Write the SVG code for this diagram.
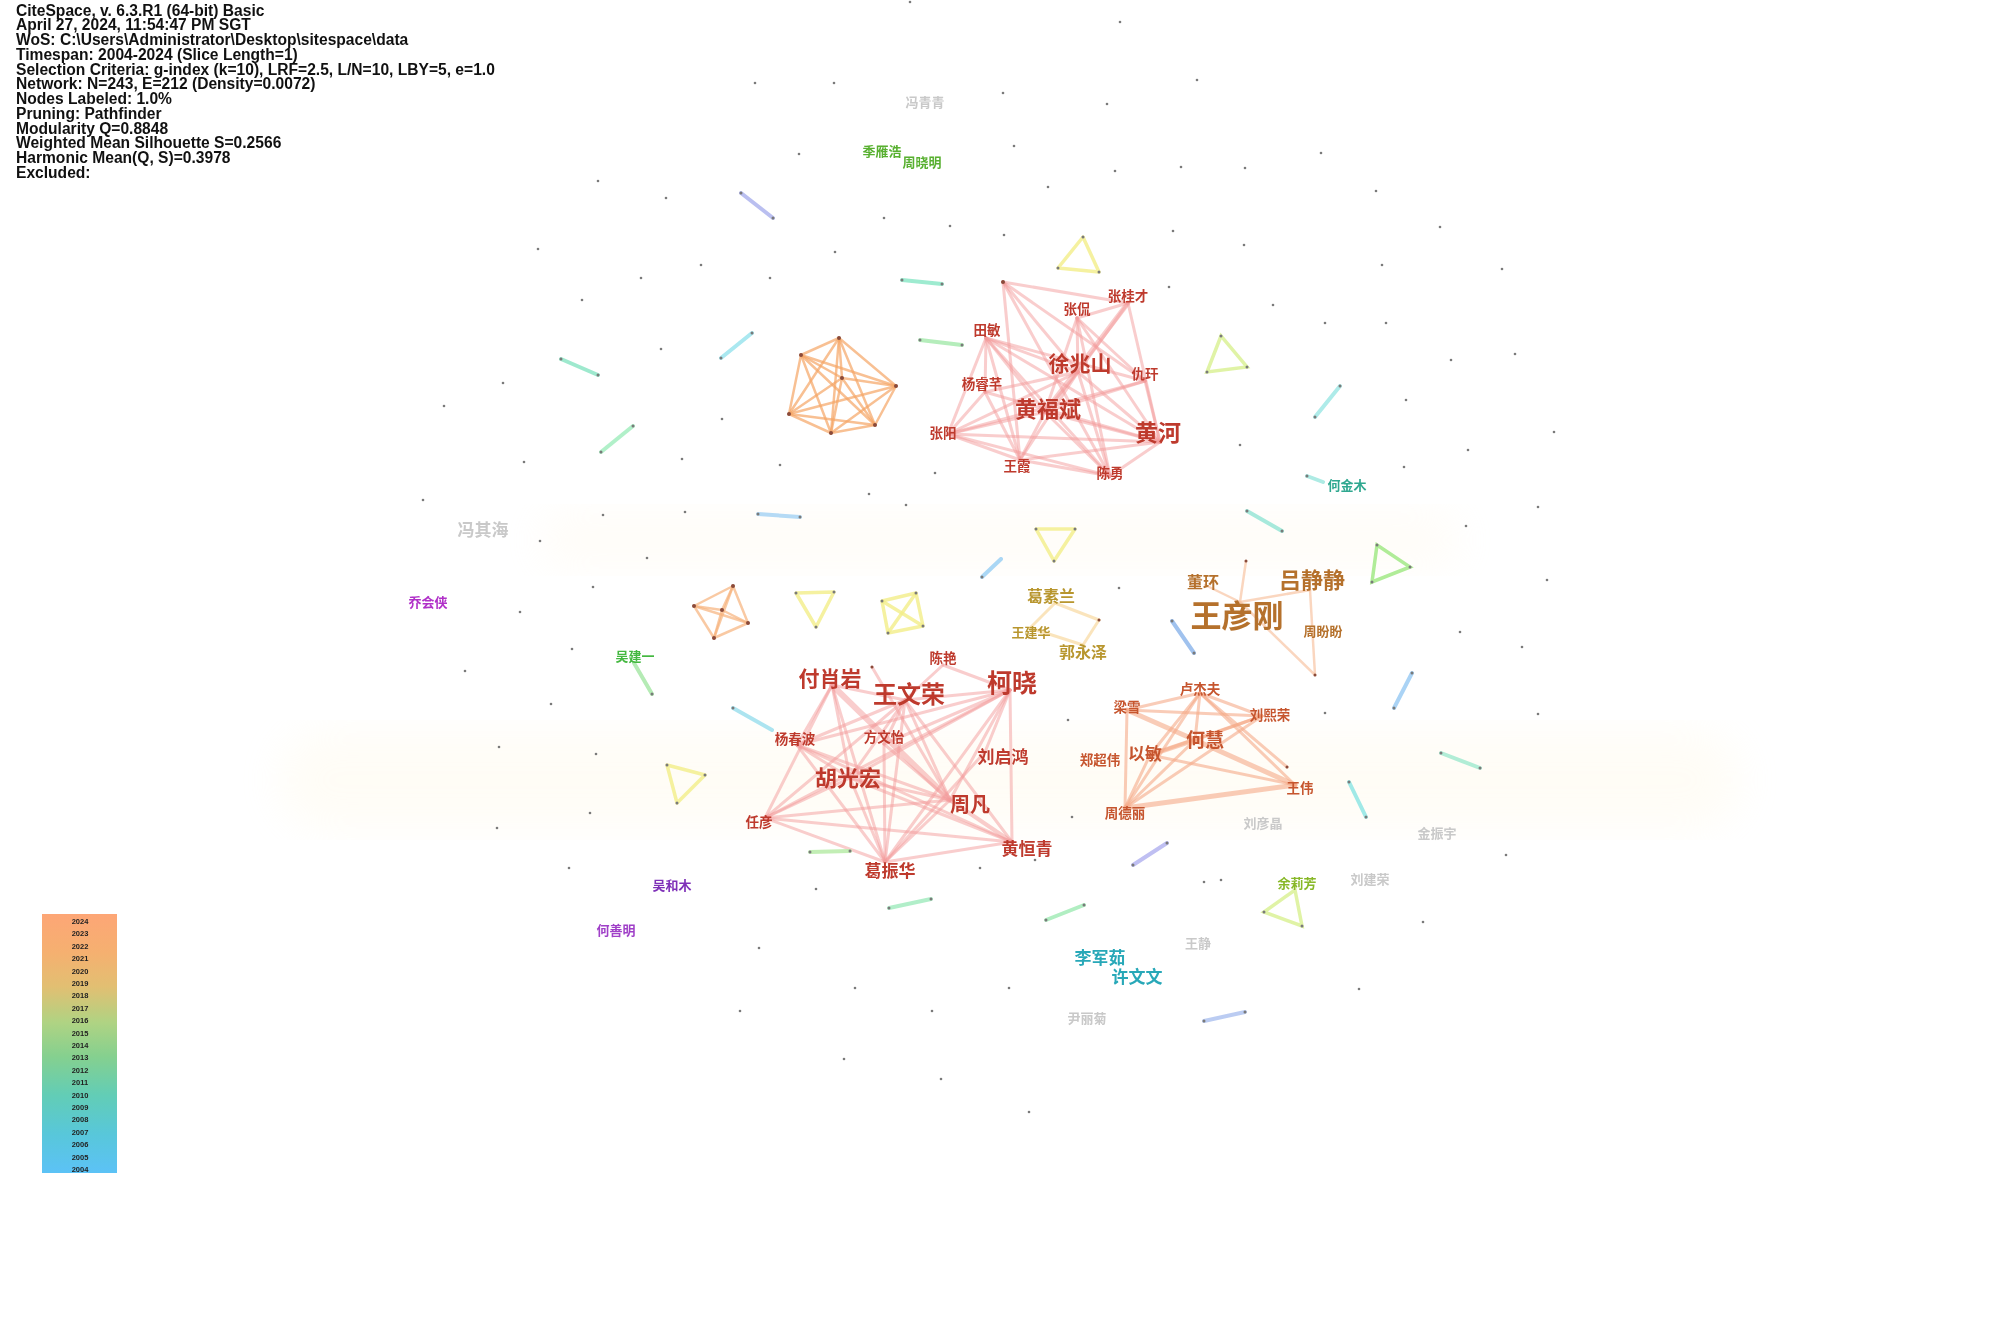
<svg xmlns="http://www.w3.org/2000/svg" width="2000" height="1336" viewBox="0 0 2000 1336">
<defs>
<linearGradient id="yr" x1="0" y1="0" x2="0" y2="1">
<stop offset="0" stop-color="#FDA676"/>
<stop offset="0.15" stop-color="#F5B070"/>
<stop offset="0.28" stop-color="#E2BF72"/>
<stop offset="0.42" stop-color="#AFD383"/>
<stop offset="0.55" stop-color="#85D08F"/>
<stop offset="0.7" stop-color="#62CDB6"/>
<stop offset="0.85" stop-color="#58C7DA"/>
<stop offset="1" stop-color="#5CC2F6"/>
</linearGradient>
<filter id="blur"><feGaussianBlur stdDeviation="20"/></filter>
</defs>
<style>
.hd{font-family:"Liberation Sans",Arial,sans-serif;font-weight:700;font-size:15.6px;fill:#111}
.yl{font-family:"Liberation Sans",Arial,sans-serif;font-weight:700;font-size:7.5px;fill:#222;text-anchor:middle}
text.t{font-family:"Noto Sans CJK SC","Noto Sans",sans-serif;font-weight:700;text-anchor:middle;dominant-baseline:central}
.lr{fill:#BE3A2D}.lo{fill:#C6552E}.lb{fill:#B5712C}.lg{fill:#B8962E}.gr{fill:#C9C9C9}
.er line{stroke:#F39C9C;stroke-width:3;stroke-opacity:0.5;stroke-linecap:round}
.eo line{stroke:#F5AA88;stroke-width:3;stroke-opacity:0.6;stroke-linecap:round}
.ep line{stroke:#F8C4A4;stroke-width:2.5;stroke-opacity:0.7;stroke-linecap:round}
.eh line{stroke:#F5A565;stroke-width:2.5;stroke-opacity:0.7;stroke-linecap:round}
.ey line,.ey polygon{stroke:#F2EE88;stroke-width:3.5;stroke-opacity:0.8;fill:none;stroke-linejoin:round}
.eyg polygon{stroke:#D8F090;stroke-width:3.5;stroke-opacity:0.8;fill:none}
.egn polygon{stroke:#B0EC98;stroke-width:3.5;fill:none}
.eq line{stroke:#F8D8A0;stroke-width:3;stroke-opacity:0.7;stroke-linecap:round}
.s{stroke-width:4;stroke-linecap:round;opacity:0.85}
.dot{fill:#7a7a7a}
.nd{fill:#8a4a3a}
</style>
<rect width="2000" height="1336" fill="#ffffff"/>
<g id="background-bands" opacity="0.22">
<rect x="280" y="730" width="1460" height="100" rx="50" fill="#FFF4D8" filter="url(#blur)"/>
<rect x="540" y="510" width="920" height="60" rx="30" fill="#FFF4E0" filter="url(#blur)"/>
</g>
<g id="header">
<text class="hd" x="16" y="15.5">CiteSpace, v. 6.3.R1 (64-bit) Basic</text>
<text class="hd" x="16" y="30.2">April 27, 2024, 11:54:47 PM SGT</text>
<text class="hd" x="16" y="45">WoS: C:\Users\Administrator\Desktop\sitespace\data</text>
<text class="hd" x="16" y="59.7">Timespan: 2004-2024 (Slice Length=1)</text>
<text class="hd" x="16" y="74.5">Selection Criteria: g-index (k=10), LRF=2.5, L/N=10, LBY=5, e=1.0</text>
<text class="hd" x="16" y="89.2">Network: N=243, E=212 (Density=0.0072)</text>
<text class="hd" x="16" y="104">Nodes Labeled: 1.0%</text>
<text class="hd" x="16" y="118.7">Pruning: Pathfinder</text>
<text class="hd" x="16" y="133.5">Modularity Q=0.8848</text>
<text class="hd" x="16" y="148.2">Weighted Mean Silhouette S=0.2566</text>
<text class="hd" x="16" y="163">Harmonic Mean(Q, S)=0.3978</text>
<text class="hd" x="16" y="177.7">Excluded:</text>
</g>
<g id="legend">
<rect x="42" y="914" width="75" height="259" fill="url(#yr)"/>
<text class="yl" x="80" y="924">2024</text><text class="yl" x="80" y="936.4">2023</text><text class="yl" x="80" y="948.8">2022</text><text class="yl" x="80" y="961.2">2021</text><text class="yl" x="80" y="973.6">2020</text><text class="yl" x="80" y="986">2019</text><text class="yl" x="80" y="998.4">2018</text><text class="yl" x="80" y="1010.8">2017</text><text class="yl" x="80" y="1023.2">2016</text><text class="yl" x="80" y="1035.6">2015</text><text class="yl" x="80" y="1048">2014</text><text class="yl" x="80" y="1060.4">2013</text><text class="yl" x="80" y="1072.8">2012</text><text class="yl" x="80" y="1085.2">2011</text><text class="yl" x="80" y="1097.6">2010</text><text class="yl" x="80" y="1110">2009</text><text class="yl" x="80" y="1122.4">2008</text><text class="yl" x="80" y="1134.8">2007</text><text class="yl" x="80" y="1147.2">2006</text><text class="yl" x="80" y="1159.6">2005</text><text class="yl" x="80" y="1172">2004</text>
</g>
<g id="connectors">
<g class="er" id="edges-top">
<line x1="1003" y1="282" x2="1128" y2="303"/><line x1="1003" y1="282" x2="1145" y2="381"/><line x1="1003" y1="282" x2="1078" y2="372"/><line x1="1003" y1="282" x2="1020" y2="460"/><line x1="1003" y1="282" x2="1110" y2="476"/>
<line x1="1128" y1="303" x2="1077" y2="318"/><line x1="1128" y1="303" x2="1045" y2="412" style="stroke-width:5"/><line x1="1128" y1="303" x2="1160" y2="442"/><line x1="1128" y1="303" x2="1078" y2="372"/>
<line x1="1077" y1="318" x2="1078" y2="372"/><line x1="1077" y1="318" x2="1045" y2="412"/><line x1="1077" y1="318" x2="1160" y2="442"/><line x1="1077" y1="318" x2="1110" y2="476"/><line x1="1077" y1="318" x2="1145" y2="381"/>
<line x1="986" y1="338" x2="985" y2="392"/><line x1="986" y1="338" x2="948" y2="434"/><line x1="986" y1="338" x2="1078" y2="372"/><line x1="986" y1="338" x2="1045" y2="412"/><line x1="986" y1="338" x2="1020" y2="460"/><line x1="986" y1="338" x2="1110" y2="476"/><line x1="986" y1="338" x2="1160" y2="442"/><line x1="986" y1="338" x2="1145" y2="381"/>
<line x1="985" y1="392" x2="1078" y2="372"/><line x1="985" y1="392" x2="1160" y2="442"/><line x1="985" y1="392" x2="1020" y2="460"/><line x1="985" y1="392" x2="948" y2="434"/>
<line x1="948" y1="434" x2="1078" y2="372"/><line x1="948" y1="434" x2="1160" y2="442"/><line x1="948" y1="434" x2="1110" y2="476"/><line x1="948" y1="434" x2="1020" y2="460"/><line x1="948" y1="434" x2="1045" y2="412"/><line x1="948" y1="434" x2="1145" y2="381"/>
<line x1="1045" y1="412" x2="1160" y2="442"/><line x1="1045" y1="412" x2="1110" y2="476"/><line x1="1045" y1="412" x2="1020" y2="460"/><line x1="1045" y1="412" x2="1078" y2="372"/><line x1="1045" y1="412" x2="1145" y2="381"/>
<line x1="1078" y1="372" x2="1110" y2="476"/><line x1="1078" y1="372" x2="1160" y2="442"/><line x1="1078" y1="372" x2="1020" y2="460"/>
<line x1="1020" y1="460" x2="1110" y2="476"/><line x1="1020" y1="460" x2="1160" y2="442"/><line x1="1110" y1="476" x2="1160" y2="442"/><line x1="1145" y1="381" x2="1160" y2="442"/>
</g>
<g class="er" id="edges-bottom-left">
<line x1="832" y1="685" x2="950" y2="800" style="stroke-width:6"/><line x1="832" y1="685" x2="850" y2="778"/><line x1="832" y1="685" x2="765" y2="818"/><line x1="832" y1="685" x2="885" y2="862"/><line x1="832" y1="685" x2="797" y2="745"/><line x1="832" y1="685" x2="905" y2="700"/>
<line x1="905" y1="700" x2="765" y2="818"/><line x1="905" y1="700" x2="885" y2="862"/><line x1="905" y1="700" x2="950" y2="800"/><line x1="905" y1="700" x2="884" y2="744"/><line x1="905" y1="700" x2="797" y2="745"/><line x1="905" y1="700" x2="1012" y2="842"/><line x1="905" y1="700" x2="850" y2="778"/>
<line x1="1010" y1="690" x2="797" y2="745"/><line x1="1010" y1="690" x2="884" y2="744"/><line x1="1010" y1="690" x2="850" y2="778"/><line x1="1010" y1="690" x2="765" y2="818"/><line x1="1010" y1="690" x2="885" y2="862"/><line x1="1010" y1="690" x2="1012" y2="842"/><line x1="1010" y1="690" x2="985" y2="752"/><line x1="1010" y1="690" x2="950" y2="800"/><line x1="1010" y1="690" x2="905" y2="700"/>
<line x1="797" y1="745" x2="1012" y2="842"/><line x1="797" y1="745" x2="850" y2="778"/><line x1="797" y1="745" x2="885" y2="862"/><line x1="797" y1="745" x2="950" y2="800"/>
<line x1="850" y1="778" x2="950" y2="800"/><line x1="850" y1="778" x2="885" y2="862"/><line x1="850" y1="778" x2="1012" y2="842"/><line x1="765" y1="818" x2="850" y2="778"/>
<line x1="765" y1="818" x2="950" y2="800"/><line x1="765" y1="818" x2="1012" y2="842"/><line x1="765" y1="818" x2="885" y2="862"/>
<line x1="885" y1="862" x2="1012" y2="842"/><line x1="885" y1="862" x2="950" y2="800"/><line x1="985" y1="752" x2="885" y2="862"/><line x1="884" y1="744" x2="885" y2="862"/><line x1="884" y1="744" x2="950" y2="800"/>
<line x1="943" y1="665" x2="1010" y2="690"/><line x1="943" y1="665" x2="905" y2="700"/><line x1="872" y1="667" x2="950" y2="800"/><line x1="950" y1="800" x2="1012" y2="842" style="stroke-width:4"/>
</g>
<g class="eo" id="edges-right">
<line x1="1127" y1="710" x2="1200" y2="693"/><line x1="1127" y1="710" x2="1262" y2="716"/><line x1="1127" y1="710" x2="1195" y2="740" style="stroke-width:5"/><line x1="1127" y1="710" x2="1125" y2="808"/>
<line x1="1200" y1="693" x2="1195" y2="740"/><line x1="1200" y1="693" x2="1262" y2="716"/><line x1="1200" y1="693" x2="1295" y2="785"/><line x1="1200" y1="693" x2="1150" y2="755"/><line x1="1200" y1="693" x2="1125" y2="808"/>
<line x1="1150" y1="755" x2="1195" y2="740" style="stroke-width:5"/><line x1="1195" y1="740" x2="1295" y2="785" style="stroke-width:5"/><line x1="1195" y1="740" x2="1125" y2="808"/>
<line x1="1262" y1="716" x2="1125" y2="808"/><line x1="1262" y1="716" x2="1150" y2="755"/><line x1="1150" y1="755" x2="1295" y2="785"/><line x1="1125" y1="808" x2="1295" y2="785" style="stroke-width:5"/>
<line x1="1287" y1="767" x2="1200" y2="693"/><line x1="1150" y1="755" x2="1125" y2="808"/><line x1="1262" y1="716" x2="1195" y2="740"/>
</g>
<g class="ep" id="edges-wyg">
<line x1="1246" y1="561" x2="1240" y2="602"/><line x1="1205" y1="585" x2="1240" y2="602"/><line x1="1240" y1="602" x2="1310" y2="590"/><line x1="1310" y1="590" x2="1315" y2="675"/><line x1="1240" y1="602" x2="1315" y2="675"/>
</g>
<g class="eq" id="edges-gold">
<line x1="1055" y1="603" x2="1099" y2="620"/><line x1="1099" y1="620" x2="1083" y2="645"/><line x1="1055" y1="603" x2="1030" y2="628"/><line x1="1030" y1="628" x2="1083" y2="645"/>
</g>
<g class="eh" id="edges-hex">
<line x1="839" y1="338" x2="801" y2="355"/><line x1="839" y1="338" x2="896" y2="386"/><line x1="839" y1="338" x2="842" y2="378"/><line x1="839" y1="338" x2="789" y2="414"/><line x1="839" y1="338" x2="831" y2="433"/><line x1="839" y1="338" x2="875" y2="425"/>
<line x1="801" y1="355" x2="896" y2="386"/><line x1="801" y1="355" x2="842" y2="378"/><line x1="801" y1="355" x2="789" y2="414"/><line x1="801" y1="355" x2="831" y2="433"/><line x1="801" y1="355" x2="875" y2="425"/>
<line x1="896" y1="386" x2="842" y2="378"/><line x1="896" y1="386" x2="789" y2="414"/><line x1="896" y1="386" x2="831" y2="433"/><line x1="896" y1="386" x2="875" y2="425"/>
<line x1="842" y1="378" x2="789" y2="414"/><line x1="842" y1="378" x2="831" y2="433"/><line x1="842" y1="378" x2="875" y2="425"/>
<line x1="789" y1="414" x2="831" y2="433"/><line x1="789" y1="414" x2="875" y2="425"/><line x1="831" y1="433" x2="875" y2="425"/>
</g>
<g class="eh" id="edges-star" style="opacity:0.85">
<line x1="733" y1="586" x2="694" y2="606"/><line x1="733" y1="586" x2="722" y2="610"/><line x1="733" y1="586" x2="748" y2="623"/><line x1="733" y1="586" x2="714" y2="638"/><line x1="694" y1="606" x2="722" y2="610"/><line x1="694" y1="606" x2="748" y2="623"/><line x1="694" y1="606" x2="714" y2="638"/><line x1="722" y1="610" x2="748" y2="623"/><line x1="722" y1="610" x2="714" y2="638"/><line x1="748" y1="623" x2="714" y2="638"/>
</g>
<g class="ey" id="edges-yellow">
<polygon points="796,593 834,592 816,627"/>
<polygon points="882,601 916,593 923,626 888,633"/>
<line x1="882" y1="601" x2="923" y2="626"/><line x1="916" y1="593" x2="888" y2="633"/>
<polygon points="1083,237 1058,268 1099,272"/>
<polygon points="1036,529 1075,529 1054,561"/>
<polygon points="667,765 705,775 677,803"/>
</g>
<g class="eyg" id="edges-yg">
<polygon points="1221,336 1207,372 1247,367"/>
<polygon points="1295,890 1264,912 1302,926"/>
</g>
<g class="egn" id="edges-green-tri">
<polygon points="1377,545 1410,567 1372,582"/>
</g>
<g id="edges-pairs">
<line class="s" x1="741" y1="193" x2="773" y2="218" stroke="#AEB4EE"/>
<line class="s" x1="902" y1="280" x2="942" y2="284" stroke="#8EE8C8"/>
<line class="s" x1="920" y1="340" x2="962" y2="345" stroke="#A8EAB0"/>
<line class="s" x1="561" y1="359" x2="598" y2="375" stroke="#8EE6C6"/>
<line class="s" x1="752" y1="333" x2="721" y2="358" stroke="#9CE4EE"/>
<line class="s" x1="633" y1="426" x2="601" y2="452" stroke="#A4EEC0"/>
<line class="s" x1="758" y1="514" x2="800" y2="517" stroke="#A8D4F4"/>
<line class="s" x1="634" y1="663" x2="652" y2="694" stroke="#A8E8A8"/>
<line class="s" x1="982" y1="577" x2="1001" y2="559" stroke="#9CD0F4"/>
<line class="s" x1="1172" y1="621" x2="1194" y2="653" stroke="#90B8EC"/>
<line class="s" x1="1340" y1="386" x2="1315" y2="417" stroke="#A0E8E6"/>
<line class="s" x1="1307" y1="476" x2="1323" y2="482" stroke="#A0E8E0"/>
<line class="s" x1="1247" y1="511" x2="1282" y2="531" stroke="#98E6D6"/>
<line class="s" x1="1412" y1="673" x2="1394" y2="708" stroke="#9CCCF4"/>
<line class="s" x1="1441" y1="753" x2="1480" y2="768" stroke="#A4EAD0"/>
<line class="s" x1="1349" y1="782" x2="1366" y2="817" stroke="#90E6E4"/>
<line class="s" x1="733" y1="708" x2="772" y2="730" stroke="#9EE0EE"/>
<line class="s" x1="810" y1="852" x2="850" y2="851" stroke="#B8ECA8"/>
<line class="s" x1="889" y1="908" x2="931" y2="899" stroke="#A4ECC0"/>
<line class="s" x1="1046" y1="920" x2="1084" y2="905" stroke="#A4ECB8"/>
<line class="s" x1="1133" y1="865" x2="1167" y2="843" stroke="#B4B4F0"/>
<line class="s" x1="1204" y1="1021" x2="1245" y2="1012" stroke="#B0C4F0"/>
</g>
</g>
<g id="minor-nodes">
<circle class="dot" cx="423" cy="500" r="1.3"/><circle class="dot" cx="603" cy="515" r="1.3"/><circle class="dot" cx="685" cy="512" r="1.3"/><circle class="dot" cx="540" cy="541" r="1.3"/><circle class="dot" cx="647" cy="558" r="1.3"/><circle class="dot" cx="593" cy="587" r="1.3"/><circle class="dot" cx="520" cy="612" r="1.3"/><circle class="dot" cx="572" cy="649" r="1.3"/><circle class="dot" cx="465" cy="671" r="1.3"/><circle class="dot" cx="551" cy="704" r="1.3"/><circle class="dot" cx="499" cy="747" r="1.3"/><circle class="dot" cx="596" cy="754" r="1.3"/><circle class="dot" cx="590" cy="813" r="1.3"/><circle class="dot" cx="497" cy="828" r="1.3"/><circle class="dot" cx="569" cy="868" r="1.3"/>
<circle class="dot" cx="755" cy="83" r="1.3"/><circle class="dot" cx="834" cy="83" r="1.3"/><circle class="dot" cx="1003" cy="93" r="1.3"/><circle class="dot" cx="1107" cy="104" r="1.3"/><circle class="dot" cx="1197" cy="80" r="1.3"/><circle class="dot" cx="799" cy="154" r="1.3"/><circle class="dot" cx="1014" cy="146" r="1.3"/><circle class="dot" cx="1115" cy="171" r="1.3"/><circle class="dot" cx="1181" cy="167" r="1.3"/><circle class="dot" cx="1245" cy="168" r="1.3"/><circle class="dot" cx="1048" cy="187" r="1.3"/><circle class="dot" cx="884" cy="218" r="1.3"/><circle class="dot" cx="950" cy="226" r="1.3"/><circle class="dot" cx="1004" cy="235" r="1.3"/><circle class="dot" cx="835" cy="252" r="1.3"/><circle class="dot" cx="770" cy="278" r="1.3"/><circle class="dot" cx="1173" cy="231" r="1.3"/><circle class="dot" cx="1244" cy="245" r="1.3"/><circle class="dot" cx="1169" cy="287" r="1.3"/><circle class="dot" cx="1120" cy="22" r="1.3"/><circle class="dot" cx="910" cy="2" r="1.3"/>
<circle class="dot" cx="598" cy="181" r="1.3"/><circle class="dot" cx="666" cy="198" r="1.3"/><circle class="dot" cx="538" cy="249" r="1.3"/><circle class="dot" cx="701" cy="265" r="1.3"/><circle class="dot" cx="641" cy="278" r="1.3"/><circle class="dot" cx="582" cy="300" r="1.3"/><circle class="dot" cx="661" cy="349" r="1.3"/><circle class="dot" cx="503" cy="383" r="1.3"/><circle class="dot" cx="722" cy="419" r="1.3"/><circle class="dot" cx="524" cy="462" r="1.3"/><circle class="dot" cx="682" cy="459" r="1.3"/><circle class="dot" cx="780" cy="465" r="1.3"/><circle class="dot" cx="935" cy="473" r="1.3"/><circle class="dot" cx="869" cy="494" r="1.3"/><circle class="dot" cx="906" cy="505" r="1.3"/><circle class="dot" cx="444" cy="406" r="1.3"/>
<circle class="dot" cx="1382" cy="265" r="1.3"/><circle class="dot" cx="1502" cy="269" r="1.3"/><circle class="dot" cx="1273" cy="305" r="1.3"/><circle class="dot" cx="1325" cy="323" r="1.3"/><circle class="dot" cx="1386" cy="323" r="1.3"/><circle class="dot" cx="1451" cy="360" r="1.3"/><circle class="dot" cx="1515" cy="354" r="1.3"/><circle class="dot" cx="1406" cy="400" r="1.3"/><circle class="dot" cx="1554" cy="432" r="1.3"/><circle class="dot" cx="1240" cy="445" r="1.3"/><circle class="dot" cx="1468" cy="450" r="1.3"/><circle class="dot" cx="1404" cy="467" r="1.3"/><circle class="dot" cx="1538" cy="507" r="1.3"/><circle class="dot" cx="1466" cy="526" r="1.3"/><circle class="dot" cx="1547" cy="580" r="1.3"/><circle class="dot" cx="1460" cy="632" r="1.3"/><circle class="dot" cx="1522" cy="647" r="1.3"/><circle class="dot" cx="1321" cy="153" r="1.3"/><circle class="dot" cx="1376" cy="191" r="1.3"/><circle class="dot" cx="1440" cy="227" r="1.3"/><circle class="dot" cx="1538" cy="714" r="1.3"/><circle class="dot" cx="1506" cy="855" r="1.3"/>
<circle class="dot" cx="1072" cy="817" r="1.3"/><circle class="dot" cx="1035" cy="860" r="1.3"/><circle class="dot" cx="1204" cy="882" r="1.3"/><circle class="dot" cx="1423" cy="922" r="1.3"/><circle class="dot" cx="1009" cy="988" r="1.3"/><circle class="dot" cx="1359" cy="989" r="1.3"/><circle class="dot" cx="1119" cy="588" r="1.3"/><circle class="dot" cx="1325" cy="713" r="1.3"/><circle class="dot" cx="1221" cy="880" r="1.3"/>
<circle class="dot" cx="759" cy="948" r="1.3"/><circle class="dot" cx="740" cy="1011" r="1.3"/><circle class="dot" cx="844" cy="1059" r="1.3"/><circle class="dot" cx="941" cy="1079" r="1.3"/><circle class="dot" cx="1029" cy="1112" r="1.3"/><circle class="dot" cx="932" cy="1011" r="1.3"/><circle class="dot" cx="855" cy="988" r="1.3"/><circle class="dot" cx="816" cy="889" r="1.3"/><circle class="dot" cx="980" cy="868" r="1.3"/><circle class="dot" cx="1068" cy="720" r="1.3"/>
<circle class="dot" cx="741" cy="193" r="1.5"/><circle class="dot" cx="773" cy="218" r="1.5"/><circle class="dot" cx="902" cy="280" r="1.5"/><circle class="dot" cx="942" cy="284" r="1.5"/><circle class="dot" cx="920" cy="340" r="1.5"/><circle class="dot" cx="962" cy="345" r="1.5"/><circle class="dot" cx="561" cy="359" r="1.5"/><circle class="dot" cx="598" cy="375" r="1.5"/><circle class="dot" cx="752" cy="333" r="1.5"/><circle class="dot" cx="721" cy="358" r="1.5"/><circle class="dot" cx="633" cy="426" r="1.5"/><circle class="dot" cx="601" cy="452" r="1.5"/><circle class="dot" cx="758" cy="514" r="1.5"/><circle class="dot" cx="800" cy="517" r="1.5"/><circle class="dot" cx="652" cy="694" r="1.5"/><circle class="dot" cx="982" cy="577" r="1.5"/><circle class="dot" cx="1172" cy="621" r="1.5"/><circle class="dot" cx="1194" cy="653" r="1.5"/><circle class="dot" cx="1340" cy="386" r="1.5"/><circle class="dot" cx="1315" cy="417" r="1.5"/><circle class="dot" cx="1307" cy="476" r="1.5"/><circle class="dot" cx="1247" cy="511" r="1.5"/><circle class="dot" cx="1282" cy="531" r="1.5"/><circle class="dot" cx="1412" cy="673" r="1.5"/><circle class="dot" cx="1394" cy="708" r="1.5"/><circle class="dot" cx="1441" cy="753" r="1.5"/><circle class="dot" cx="1480" cy="768" r="1.5"/><circle class="dot" cx="1349" cy="782" r="1.5"/><circle class="dot" cx="1366" cy="817" r="1.5"/><circle class="dot" cx="733" cy="708" r="1.5"/><circle class="dot" cx="810" cy="852" r="1.5"/><circle class="dot" cx="850" cy="851" r="1.5"/><circle class="dot" cx="889" cy="908" r="1.5"/><circle class="dot" cx="931" cy="899" r="1.5"/><circle class="dot" cx="1046" cy="920" r="1.5"/><circle class="dot" cx="1084" cy="905" r="1.5"/><circle class="dot" cx="1133" cy="865" r="1.5"/><circle class="dot" cx="1167" cy="843" r="1.5"/><circle class="dot" cx="1204" cy="1021" r="1.5"/><circle class="dot" cx="1245" cy="1012" r="1.5"/>
<circle class="dot" cx="1083" cy="237" r="1.5"/><circle class="dot" cx="1058" cy="268" r="1.5"/><circle class="dot" cx="1099" cy="272" r="1.5"/><circle class="dot" cx="1221" cy="336" r="1.5"/><circle class="dot" cx="1207" cy="372" r="1.5"/><circle class="dot" cx="1247" cy="367" r="1.5"/><circle class="dot" cx="1377" cy="545" r="1.5"/><circle class="dot" cx="1410" cy="567" r="1.5"/><circle class="dot" cx="1372" cy="582" r="1.5"/><circle class="dot" cx="1036" cy="529" r="1.5"/><circle class="dot" cx="1075" cy="529" r="1.5"/><circle class="dot" cx="1054" cy="561" r="1.5"/><circle class="dot" cx="796" cy="593" r="1.5"/><circle class="dot" cx="834" cy="592" r="1.5"/><circle class="dot" cx="816" cy="627" r="1.5"/><circle class="dot" cx="882" cy="601" r="1.5"/><circle class="dot" cx="916" cy="593" r="1.5"/><circle class="dot" cx="923" cy="626" r="1.5"/><circle class="dot" cx="888" cy="633" r="1.5"/><circle class="dot" cx="667" cy="765" r="1.5"/><circle class="dot" cx="705" cy="775" r="1.5"/><circle class="dot" cx="677" cy="803" r="1.5"/><circle class="dot" cx="1264" cy="912" r="1.5"/><circle class="dot" cx="1302" cy="926" r="1.5"/>
<circle class="nd" cx="839" cy="338" r="2"/><circle class="nd" cx="801" cy="355" r="2"/><circle class="nd" cx="896" cy="386" r="2"/><circle class="nd" cx="842" cy="378" r="2"/><circle class="nd" cx="789" cy="414" r="2"/><circle class="nd" cx="831" cy="433" r="2"/><circle class="nd" cx="875" cy="425" r="2"/>
<circle class="nd" cx="733" cy="586" r="2"/><circle class="nd" cx="694" cy="606" r="2"/><circle class="nd" cx="722" cy="610" r="2"/><circle class="nd" cx="748" cy="623" r="2"/><circle class="nd" cx="714" cy="638" r="2"/>
<circle class="nd" cx="1003" cy="282" r="2"/><circle class="nd" cx="872" cy="667" r="1.5"/><circle class="nd" cx="1246" cy="561" r="1.5"/><circle class="nd" cx="1315" cy="675" r="1.5"/><circle class="nd" cx="1287" cy="767" r="1.5"/><circle class="nd" cx="1099" cy="620" r="1.5"/>
</g>
<g id="n-zhangguicai"><text class="t lr" x="1128" y="295" font-size="13.5">张桂才</text></g>
<g id="n-zhangkan"><text class="t lr" x="1077" y="308" font-size="13.5">张侃</text></g>
<g id="n-tianmin"><text class="t lr" x="987" y="329" font-size="13.5">田敏</text></g>
<g id="n-xuzhaoshan"><text class="t lr" x="1080" y="362" font-size="21">徐兆山</text></g>
<g id="n-qiugan"><text class="t lr" x="1145" y="373" font-size="13.5">仇玕</text></g>
<g id="n-yangruiqian"><text class="t lr" x="982" y="383" font-size="13.5">杨睿芊</text></g>
<g id="n-huangfubin"><text class="t lr" x="1048" y="407" font-size="22">黄福斌</text></g>
<g id="n-zhangyang"><text class="t lr" x="943" y="432" font-size="13.5">张阳</text></g>
<g id="n-huanghe"><text class="t lr" x="1158" y="431" font-size="23">黄河</text></g>
<g id="n-wangxia"><text class="t lr" x="1017" y="465" font-size="13.5">王霞</text></g>
<g id="n-chenyong"><text class="t lr" x="1110" y="472" font-size="13.5">陈勇</text></g>
<g id="n-chenyan"><text class="t lr" x="943" y="657" font-size="13.5">陈艳</text></g>
<g id="n-fuxiaoyan"><text class="t lr" x="830" y="677" font-size="21">付肖岩</text></g>
<g id="n-wangwenrong"><text class="t lr" x="909" y="692" font-size="24">王文荣</text></g>
<g id="n-kexiao"><text class="t lr" x="1012" y="681" font-size="25">柯晓</text></g>
<g id="n-yangchunbo"><text class="t lr" x="795" y="738" font-size="13.5">杨春波</text></g>
<g id="n-fangwenyi"><text class="t lr" x="884" y="736" font-size="13.5">方文怡</text></g>
<g id="n-liuqihong"><text class="t lr" x="1003" y="755" font-size="17">刘启鸿</text></g>
<g id="n-huguanghong"><text class="t lr" x="848" y="776" font-size="22">胡光宏</text></g>
<g id="n-zhoufan"><text class="t lr" x="970" y="803" font-size="20">周凡</text></g>
<g id="n-renyan"><text class="t lr" x="759" y="821" font-size="13.5">任彦</text></g>
<g id="n-huanghengqing"><text class="t lr" x="1027" y="847" font-size="17">黄恒青</text></g>
<g id="n-gezhenhua"><text class="t lr" x="890" y="869" font-size="17">葛振华</text></g>
<g id="n-lujiefu"><text class="t lo" x="1200" y="688" font-size="13.5">卢杰夫</text></g>
<g id="n-liangxue"><text class="t lo" x="1127" y="706" font-size="13.5">梁雪</text></g>
<g id="n-liuxirong"><text class="t lo" x="1270" y="714" font-size="13.5">刘熙荣</text></g>
<g id="n-hehui"><text class="t lo" x="1205" y="738" font-size="19">何慧</text></g>
<g id="n-yimin"><text class="t lo" x="1145" y="752" font-size="17">以敏</text></g>
<g id="n-zhengchaowei"><text class="t lo" x="1100" y="759" font-size="13.5">郑超伟</text></g>
<g id="n-wangwei"><text class="t lo" x="1300" y="787" font-size="13.5">王伟</text></g>
<g id="n-zhoudeli"><text class="t lo" x="1125" y="812" font-size="13.5">周德丽</text></g>
<g id="n-donghuan"><text class="t lb" x="1203" y="581" font-size="16">董环</text></g>
<g id="n-lvjingjing"><text class="t lb" x="1312" y="578" font-size="22">吕静静</text></g>
<g id="n-wangyangang"><text class="t lb" x="1237" y="613" font-size="31">王彦刚</text></g>
<g id="n-zhoupanpan"><text class="t lb" x="1323" y="630" font-size="13">周盼盼</text></g>
<g id="n-gesulan"><text class="t lg" x="1051" y="595" font-size="16">葛素兰</text></g>
<g id="n-wangjianhua"><text class="t lg" x="1031" y="631" font-size="13">王建华</text></g>
<g id="n-guoyongze"><text class="t lg" x="1083" y="651" font-size="16">郭永泽</text></g>
<g id="n-fengqihai"><text class="t gr" x="483" y="528" font-size="17">冯其海</text></g>
<g id="n-qiaohuixia"><text class="t" x="428" y="601" font-size="13" fill="#B030C8">乔会侠</text></g>
<g id="n-wujianyi"><text class="t" x="635" y="655" font-size="13" fill="#44B840">吴建一</text></g>
<g id="n-wuhemu"><text class="t" x="672" y="884" font-size="13" fill="#7E30B8">吴和木</text></g>
<g id="n-heshanming"><text class="t" x="616" y="929" font-size="13" fill="#A040C8">何善明</text></g>
<g id="n-fengqingqing"><text class="t gr" x="925" y="101" font-size="13">冯青青</text></g>
<g id="n-jiyanhao"><text class="t" x="882" y="150" font-size="13" fill="#58B030">季雁浩</text></g>
<g id="n-zhouxiaoming"><text class="t" x="922" y="161" font-size="13" fill="#58B030">周晓明</text></g>
<g id="n-hejinmu"><text class="t" x="1347" y="484" font-size="13" fill="#30A890">何金木</text></g>
<g id="n-liuyanjing"><text class="t gr" x="1263" y="822" font-size="13">刘彦晶</text></g>
<g id="n-jinzhenyu"><text class="t gr" x="1437" y="832" font-size="13">金振宇</text></g>
<g id="n-yulifang"><text class="t" x="1297" y="882" font-size="13" fill="#88B828">余莉芳</text></g>
<g id="n-liujianrong"><text class="t gr" x="1370" y="878" font-size="13">刘建荣</text></g>
<g id="n-wangjing"><text class="t gr" x="1198" y="942" font-size="13">王静</text></g>
<g id="n-lijunru"><text class="t" x="1100" y="956" font-size="17" fill="#28A8B8">李军茹</text></g>
<g id="n-xuwenwen"><text class="t" x="1137" y="975" font-size="17" fill="#28A8B8">许文文</text></g>
<g id="n-yinliju"><text class="t gr" x="1087" y="1017" font-size="13">尹丽菊</text></g>
</svg>
